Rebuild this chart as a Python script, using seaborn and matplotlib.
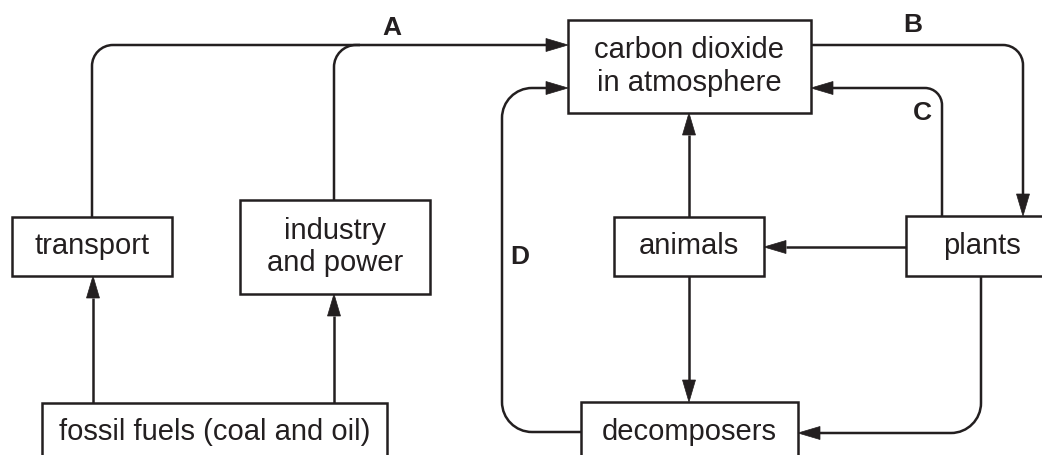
import numpy as np
import matplotlib.pyplot as plt
import seaborn as sns
from matplotlib.path import Path
from matplotlib.patches import PathPatch, Rectangle, Polygon

# boxes of the carbon cycle (pixel coords, y grows downwards)
box_labels = ["carbon dioxide\nin atmosphere", "transport", "industry\nand power",
              "fossil fuels (coal and oil)", "animals", "plants", "decomposers"]
box_left = [568, 12, 240, 42, 614, 906, 581]
box_top = [20, 217, 200, 403, 217, 216, 402]
box_right = [811, 172, 430, 387, 764, 1058, 798]
box_bottom = [113, 276, 294, 462, 276, 276, 462]

# letter labels on the flows
flow_labels = ["A", "B", "C", "D"]
flow_label_x = [392, 913, 922, 520]
flow_label_y = [28, 25, 113, 257]

# connector routes: waypoints, corner radius, arrow at the end?
route_points = [
    [(92, 217), (92, 45), (568, 45)],                 # transport -> CO2
    [(334, 200), (334, 45), (360, 45)],               # industry joins line A
    [(93, 403), (93, 276)],                           # fossil -> transport
    [(334, 403), (334, 294)],                         # fossil -> industry
    [(581, 432), (502, 432), (502, 88), (568, 88)],   # D
    [(689, 217), (689, 113)],                         # animals -> CO2
    [(689, 276), (689, 402)],                         # animals -> decomposers
    [(906, 247), (764, 247)],                         # plants -> animals
    [(942, 216), (942, 88), (811, 88)],               # C
    [(811, 45), (1023, 45), (1023, 216)],             # B
    [(981, 276), (981, 433), (798, 433)],             # plants -> decomposers
]
route_radius = [21, 22, 0, 0, 30, 0, 0, 0, 17, 20, 30]
route_arrow = [True, False, True, True, True, True, True, True, True, True, True]

INK = "#231f20"
HEAD_LEN, HEAD_W = 22, 13


def rounded_path(points, r, arrow):
    pts = [np.array(p, dtype=float) for p in points]
    if arrow:
        d = pts[-1] - pts[-2]
        d /= np.linalg.norm(d)
        pts[-1] = pts[-1] - d * HEAD_LEN
    verts, codes = [tuple(pts[0])], [Path.MOVETO]
    k = 0.5523
    for i in range(1, len(pts) - 1):
        p0, p1, p2 = pts[i - 1], pts[i], pts[i + 1]
        d0 = (p1 - p0) / np.linalg.norm(p1 - p0)
        d1 = (p2 - p1) / np.linalg.norm(p2 - p1)
        a, b = p1 - d0 * r, p1 + d1 * r
        verts += [tuple(a), tuple(a + d0 * r * k), tuple(b - d1 * r * k), tuple(b)]
        codes += [Path.LINETO, Path.CURVE4, Path.CURVE4, Path.CURVE4]
    verts.append(tuple(pts[-1]))
    codes.append(Path.LINETO)
    return Path(verts, codes)


def arrow_head(points):
    tip = np.array(points[-1], dtype=float)
    d = tip - np.array(points[-2], dtype=float)
    d /= np.linalg.norm(d)
    n = np.array([-d[1], d[0]])
    base = tip - d * HEAD_LEN
    return [tip, base + n * HEAD_W / 2, base - n * HEAD_W / 2]


sns.set_theme(style="white")
plt.rcParams["font.family"] = ["Liberation Sans", "DejaVu Sans"]

fig = plt.figure(figsize=(10.42, 4.55), dpi=100)
ax = fig.add_axes([0, 0, 1, 1])
ax.set_xlim(0, 1042)
ax.set_ylim(455, 0)
ax.axis("off")

for label, x0, y0, x1, y1 in zip(box_labels, box_left, box_top, box_right, box_bottom):
    ax.add_patch(Rectangle((x0, y0), x1 - x0, y1 - y0, facecolor="white",
                           edgecolor=INK, linewidth=1.8, zorder=2))
    cx = (x0 + x1) / 2 if x1 <= 1042 else 982
    cy = (y0 + y1) / 2 if y1 < 455 else 432
    ax.text(cx, cy, label, ha="center", va="center", fontsize=21, color=INK,
            linespacing=1.22, zorder=3)

for pts, r, arr in zip(route_points, route_radius, route_arrow):
    ax.add_patch(PathPatch(rounded_path(pts, r, arr), facecolor="none",
                           edgecolor=INK, linewidth=1.8, capstyle="butt", zorder=1))
    if arr:
        ax.add_patch(Polygon(arrow_head(pts), closed=True, facecolor=INK,
                             edgecolor=INK, linewidth=0.5, zorder=4))

for label, x, y in zip(flow_labels, flow_label_x, flow_label_y):
    ax.text(x, y, label, ha="center", va="center", fontsize=19,
            fontweight="bold", color=INK)

fig.savefig("out.png", dpi=100)
plt.close(fig)
